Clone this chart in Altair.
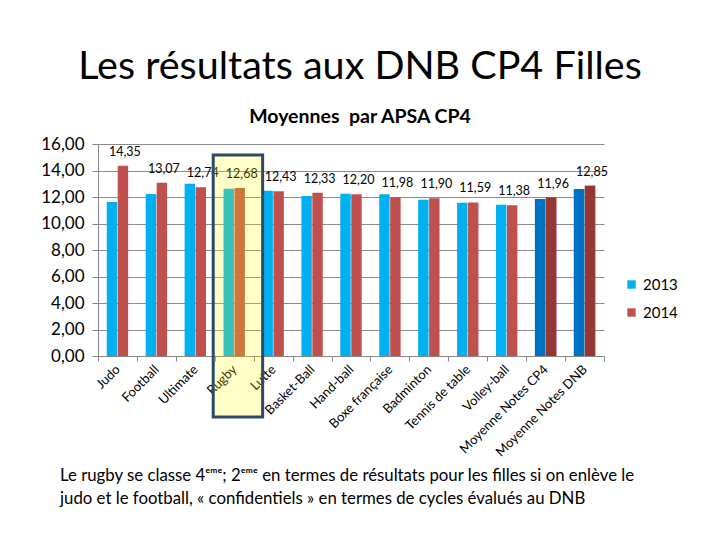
import altair as alt
import pandas as pd

categories = ["Judo", "Football", "Ultimate", "Rugby", "Lutte", "Basket-Ball",
              "Hand-ball", "Boxe française", "Badminton", "Tennis de table",
              "Volley-ball", "Moyenne Notes CP4", "Moyenne Notes DNB"]
v2013 = [11.62, 12.23, 13.00, 12.63, 12.47, 12.08, 12.25, 12.20, 11.80, 11.57, 11.42, 11.85, 12.60]
v2014 = [14.35, 13.07, 12.74, 12.68, 12.43, 12.33, 12.20, 11.98, 11.90, 11.59, 11.38, 11.96, 12.85]
years = ["2013", "2014"]
year_colors = ["#00B0F0", "#C0504D"]
special = ["Moyenne Notes CP4", "Moyenne Notes DNB"]
special_colors = {"2013": "#0070C0", "2014": "#953735"}
y_ticks = [0, 2, 4, 6, 8, 10, 12, 14, 16]

title_txt = "Les résultats aux DNB CP4 Filles"
subtitle_txt = "Moyennes\u00a0 par APSA CP4"
footer1 = "Le rugby se classe 4ᵉᵐᵉ; 2ᵉᵐᵉ en termes de résultats pour les filles si on enlève le"
footer2 = "judo et le football, « confidentiels » en termes de cycles évalués au DNB"

rows = []
for c, a, b in zip(categories, v2013, v2014):
    for y, v in zip(years, (a, b)):
        rows.append({"cat": c, "year": y, "val": v, "dark": special_colors[y],
                     "special": c in special})
df = pd.DataFrame(rows)
lab_df = pd.DataFrame({"cat": categories, "val": v2014, "year": "2014",
                       "lab": [f"{v:.2f}".replace(".", ",") for v in v2014]})

W, H = 506, 212
FONT = "Lato"

x_axis = alt.Axis(title=None, labelAngle=-45, labelAlign="right",
                  labelBaseline="middle", tickBand="extent",
                  domainColor="#868686", tickColor="#868686",
                  tickSize=5, labelFont=FONT, labelFontSize=13,
                  labelColor="#000000", labelPadding=6, labelOverlap=False)
y_axis = alt.Axis(title=None, values=y_ticks, tickCount=20,
                  labelExpr="replace(format(datum.value, '.2f'), '.', ',')",
                  labelFont=FONT, labelFontSize=17, labelColor="#000000",
                  labelOverlap=False,
                  domainColor="#868686", tickColor="#868686", tickSize=6,
                  labelPadding=8, gridColor="#8C8C8C", gridWidth=1.2)
x_scale = alt.Scale(paddingInner=0, paddingOuter=0)
y_scale = alt.Scale(domain=[0, 16], nice=False)

x_enc = alt.X("cat:N", sort=categories, scale=x_scale, axis=x_axis)
y_enc = alt.Y("val:Q", scale=y_scale, axis=y_axis)
xoff = alt.XOffset("year:N", scale=alt.Scale(paddingInner=0.05, paddingOuter=0.8))

bars = alt.Chart(df).mark_bar().encode(
    x=x_enc, y=y_enc, xOffset=xoff,
    color=alt.Color("year:N", scale=alt.Scale(domain=years, range=year_colors),
                    legend=alt.Legend(title=None, orient="none", legendX=526, legendY=133,
                                      symbolType="square", symbolSize=70,
                                      labelFont=FONT, labelFontSize=15,
                                      labelColor="#000000", rowPadding=12,
                                      symbolStrokeWidth=0)),
)
dark_bars = alt.Chart(df).transform_filter("datum.special").mark_bar().encode(
    x=x_enc, y=y_enc, xOffset=xoff,
    fill=alt.Fill("dark:N", scale=None),
)
labels = alt.Chart(lab_df).mark_text(font=FONT, fontSize=12.5, color="#000000",
                                      dy=-14, dx=2).encode(
    x=x_enc, y=y_enc, xOffset=xoff, text="lab:N")

box = alt.Chart(pd.DataFrame({"k": [0]})).mark_rect(
    fill="#FFFF00", fillOpacity=0.22, stroke="#2E4A6B", strokeWidth=3).encode(
    x=alt.XDatum("Ultimate", type="nominal", bandPosition=0.96, axis=x_axis, scale=x_scale),
    x2=alt.X2Datum("Lutte", bandPosition=0.23),
    y=alt.YDatum(15.17, type="quantitative", axis=y_axis, scale=y_scale),
    y2=alt.Y2Datum(-4.6),
)

def txt(t, x, y, size, weight="normal", align="center"):
    return alt.Chart(pd.DataFrame({"t": [t]})).mark_text(
        font=FONT, fontSize=size, fontWeight=weight, align=align,
        baseline="middle", color="#000000").encode(
        x=alt.value(x), y=alt.value(y), text="t:N")

chart = alt.layer(
    bars, dark_bars, labels, box,
    txt(title_txt, 262, -77, 39.5),
    txt(subtitle_txt, 262, -27, 19.5, "bold"),
    txt(footer1, -38, 332, 16.8, align="left"),
    txt(footer2, -38, 355, 16.8, align="left"),
).properties(
    width=W, height=H,
    autosize=alt.AutoSizeParams(type="none"),
    padding={"left": 90, "top": 136, "right": 100, "bottom": 170},
).configure_view(stroke=None).configure_axisX(grid=False)

chart.save("out.html", embed_options={"renderer": "svg", "actions": False})
